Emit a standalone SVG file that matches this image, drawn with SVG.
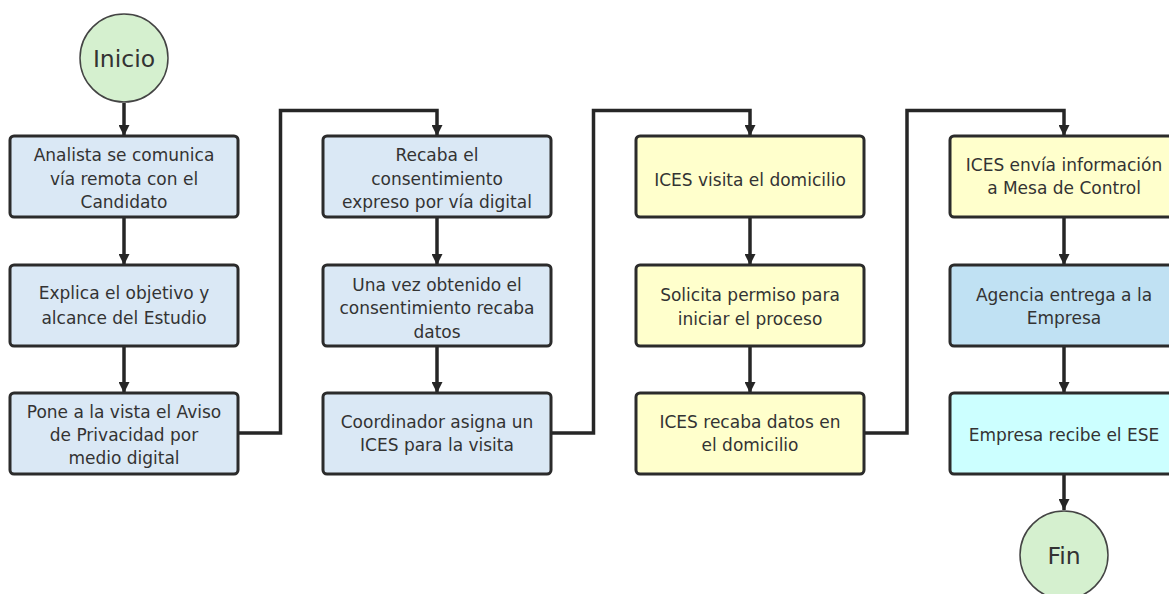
<svg xmlns="http://www.w3.org/2000/svg" width="1169" height="594" viewBox="0 0 1169 594">
<style>
.box{stroke:#2b2b2b;stroke-width:3}
.blue{fill:#dae8f5}
.yellow{fill:#ffffcc}
.agency{fill:#c0e1f3}
.cyan{fill:#ccffff}
.term{fill:#d5f0cf;stroke:#444;stroke-width:1.5}
text{font-family:"DejaVu Sans",Verdana,sans-serif;font-size:17px;fill:#333;text-anchor:middle}
.big{font-size:23.5px}
.conn{fill:none;stroke:#262626;stroke-width:3.5}
</style>
<defs>
<marker id="arr" viewBox="0 0 10 10" refX="10" refY="5" markerWidth="11" markerHeight="11" markerUnits="userSpaceOnUse" orient="auto">
<path d="M0,0 L10,5 L0,10 z" fill="#262626"/>
</marker>
</defs>
<g id="connectors">
<path class="conn" d="M124 103 V136" marker-end="url(#arr)"/>
<path class="conn" d="M124 217 V265" marker-end="url(#arr)"/>
<path class="conn" d="M124 346 V393" marker-end="url(#arr)"/>
<path class="conn" d="M238 433 H280.5 V110.5 H437 V136" marker-end="url(#arr)"/>
<path class="conn" d="M437 217 V265" marker-end="url(#arr)"/>
<path class="conn" d="M437 346 V393" marker-end="url(#arr)"/>
<path class="conn" d="M551 433 H593.5 V110.5 H750 V136" marker-end="url(#arr)"/>
<path class="conn" d="M750 217 V265" marker-end="url(#arr)"/>
<path class="conn" d="M750 346 V393" marker-end="url(#arr)"/>
<path class="conn" d="M864 433 H907 V110.5 H1064 V136" marker-end="url(#arr)"/>
<path class="conn" d="M1064 217 V265" marker-end="url(#arr)"/>
<path class="conn" d="M1064 346 V393" marker-end="url(#arr)"/>
<path class="conn" d="M1064 474 V510" marker-end="url(#arr)"/>
</g>
<g id="inicio">
<circle class="term" cx="124" cy="58" r="44"/>
<text class="big" x="124" y="67">Inicio</text>
</g>
<g id="n1">
<rect class="box blue" x="10" y="136" width="228" height="81" rx="4"/>
<text x="124" y="161">Analista se comunica</text>
<text x="124" y="184.5">vía remota con el</text>
<text x="124" y="208">Candidato</text>
</g>
<g id="n2">
<rect class="box blue" x="10" y="265" width="228" height="81" rx="4"/>
<text x="124" y="299">Explica el objetivo y</text>
<text x="124" y="323.5">alcance del Estudio</text>
</g>
<g id="n3">
<rect class="box blue" x="10" y="393" width="228" height="81" rx="4"/>
<text x="124" y="418">Pone a la vista el Aviso</text>
<text x="124" y="441">de Privacidad por</text>
<text x="124" y="464">medio digital</text>
</g>
<g id="n4">
<rect class="box blue" x="323" y="136" width="228" height="81" rx="4"/>
<text x="437" y="161">Recaba el</text>
<text x="437" y="184.5">consentimiento</text>
<text x="437" y="208">expreso por vía digital</text>
</g>
<g id="n5">
<rect class="box blue" x="323" y="265" width="228" height="81" rx="4"/>
<text x="437" y="291">Una vez obtenido el</text>
<text x="437" y="314">consentimiento recaba</text>
<text x="437" y="337.5">datos</text>
</g>
<g id="n6">
<rect class="box blue" x="323" y="393" width="228" height="81" rx="4"/>
<text x="437" y="428">Coordinador asigna un</text>
<text x="437" y="451">ICES para la visita</text>
</g>
<g id="n7">
<rect class="box yellow" x="636" y="136" width="228" height="81" rx="4"/>
<text x="750" y="186">ICES visita el domicilio</text>
</g>
<g id="n8">
<rect class="box yellow" x="636" y="265" width="228" height="81" rx="4"/>
<text x="750" y="301">Solicita permiso para</text>
<text x="750" y="324.5">iniciar el proceso</text>
</g>
<g id="n9">
<rect class="box yellow" x="636" y="393" width="228" height="81" rx="4"/>
<text x="750" y="428">ICES recaba datos en</text>
<text x="750" y="451">el domicilio</text>
</g>
<g id="n10">
<rect class="box yellow" x="950" y="136" width="228" height="81" rx="4"/>
<text x="1064" y="171">ICES envía información</text>
<text x="1064" y="194">a Mesa de Control</text>
</g>
<g id="n11">
<rect class="box agency" x="950" y="265" width="228" height="81" rx="4"/>
<text x="1064" y="301">Agencia entrega a la</text>
<text x="1064" y="324">Empresa</text>
</g>
<g id="n12">
<rect class="box cyan" x="950" y="393" width="228" height="81" rx="4"/>
<text x="1064" y="441">Empresa recibe el ESE</text>
</g>
<g id="fin">
<circle class="term" cx="1064" cy="555" r="44"/>
<text class="big" x="1064" y="564">Fin</text>
</g>
</svg>
